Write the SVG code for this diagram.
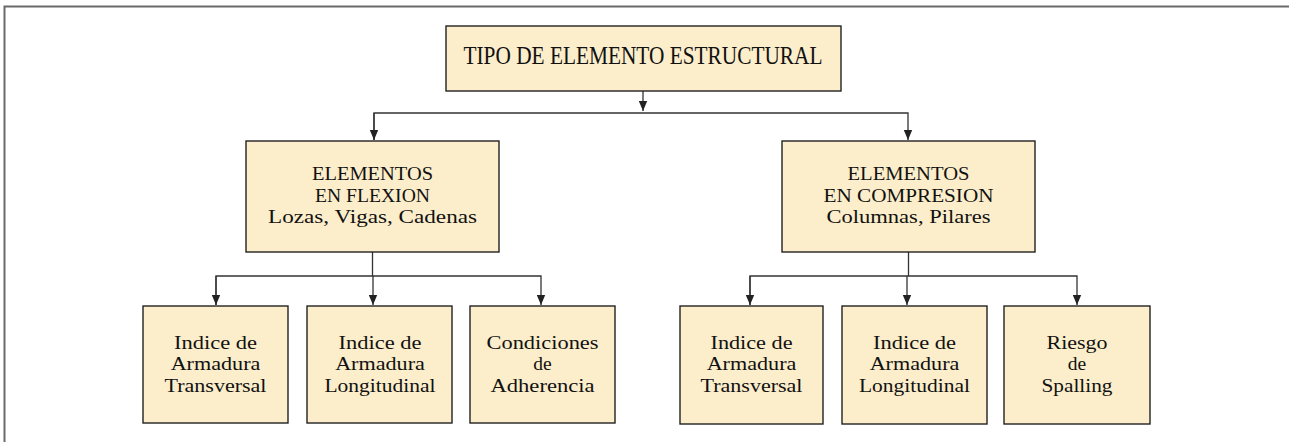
<svg xmlns="http://www.w3.org/2000/svg" width="1289" height="442" viewBox="0 0 1289 442">
<style>
.box{fill:#FCEECB;stroke:#222;stroke-width:1.4}
.t{font-family:"Liberation Serif","Times New Roman",serif;font-size:19.5px;fill:#111;text-anchor:middle}
.title{font-size:24.5px}
.c{fill:none;stroke:#333;stroke-width:1.3}
.frame{fill:none;stroke:#6a6a6a;stroke-width:2}
</style>
<defs>
<marker id="ad" markerUnits="userSpaceOnUse" markerWidth="10" markerHeight="12" viewBox="0 0 10 12" refX="5" refY="11" orient="0">
<path d="M0.8,1 L9.2,1 L5,11 Z" fill="#222"/>
</marker>
</defs>
<path class="frame" d="M4.5,442 L4.5,6.5 L1289,6.5"/>
<g id="connectors">
<path class="c" d="M643,91 L643,111" marker-end="url(#ad)"/>
<path class="c" d="M374,140 L374,113 L908,113 L908,140" marker-end="url(#ad)"/>
<path class="c" d="M374,113 L374,140" marker-end="url(#ad)"/>
<path class="c" d="M372.5,252 L372.5,276"/>
<path class="c" d="M216,305 L216,276 L541,276 L541,305" marker-end="url(#ad)"/>
<path class="c" d="M216,276 L216,305" marker-end="url(#ad)"/>
<path class="c" d="M373,276 L373,305" marker-end="url(#ad)"/>
<path class="c" d="M908.5,252 L908.5,276"/>
<path class="c" d="M750,305 L750,276 L1077,276 L1077,305" marker-end="url(#ad)"/>
<path class="c" d="M750,276 L750,305" marker-end="url(#ad)"/>
<path class="c" d="M907,276 L907,305" marker-end="url(#ad)"/>
</g>
<g id="n-root">
<rect class="box" x="446" y="26" width="395" height="65"/>
<text class="t title" x="643" y="64.3" textLength="359" lengthAdjust="spacingAndGlyphs">TIPO DE ELEMENTO ESTRUCTURAL</text>
</g>
<g id="n-flexion">
<rect class="box" x="246" y="141" width="253" height="111"/>
<text class="t" x="372.5" y="180.2" textLength="121" lengthAdjust="spacingAndGlyphs">ELEMENTOS</text>
<text class="t" x="372.5" y="201.7" textLength="115" lengthAdjust="spacingAndGlyphs">EN FLEXION</text>
<text class="t" x="372.5" y="223.2" textLength="209" lengthAdjust="spacingAndGlyphs">Lozas, Vigas, Cadenas</text>
</g>
<g id="n-compresion">
<rect class="box" x="782" y="141" width="253" height="111"/>
<text class="t" x="908.5" y="180.2" textLength="122" lengthAdjust="spacingAndGlyphs">ELEMENTOS</text>
<text class="t" x="908.5" y="201.7" textLength="170" lengthAdjust="spacingAndGlyphs">EN COMPRESION</text>
<text class="t" x="908.5" y="223.2" textLength="164" lengthAdjust="spacingAndGlyphs">Columnas, Pilares</text>
</g>
<g id="n-f-transversal">
<rect class="box" x="143" y="306" width="145" height="117"/>
<text class="t" x="215.5" y="348.5" textLength="83" lengthAdjust="spacingAndGlyphs">Indice de</text>
<text class="t" x="215.5" y="370" textLength="89.7" lengthAdjust="spacingAndGlyphs">Armadura</text>
<text class="t" x="215.5" y="391.5" textLength="102" lengthAdjust="spacingAndGlyphs">Transversal</text>
</g>
<g id="n-f-longitudinal">
<rect class="box" x="307" y="306" width="145" height="117"/>
<text class="t" x="380" y="348.5" textLength="83" lengthAdjust="spacingAndGlyphs">Indice de</text>
<text class="t" x="380" y="370" textLength="89.7" lengthAdjust="spacingAndGlyphs">Armadura</text>
<text class="t" x="380" y="391.5" textLength="111" lengthAdjust="spacingAndGlyphs">Longitudinal</text>
</g>
<g id="n-f-adherencia">
<rect class="box" x="470" y="306" width="145" height="117"/>
<text class="t" x="542.5" y="348.5" textLength="112" lengthAdjust="spacingAndGlyphs">Condiciones</text>
<text class="t" x="542.5" y="370">de</text>
<text class="t" x="542.5" y="391.5" textLength="104" lengthAdjust="spacingAndGlyphs">Adherencia</text>
</g>
<g id="n-c-transversal">
<rect class="box" x="680" y="306" width="143" height="118"/>
<text class="t" x="751.5" y="348.5" textLength="82" lengthAdjust="spacingAndGlyphs">Indice de</text>
<text class="t" x="751.5" y="370" textLength="89.7" lengthAdjust="spacingAndGlyphs">Armadura</text>
<text class="t" x="751.5" y="391.5" textLength="102" lengthAdjust="spacingAndGlyphs">Transversal</text>
</g>
<g id="n-c-longitudinal">
<rect class="box" x="842" y="306" width="145" height="118"/>
<text class="t" x="914.5" y="348.5" textLength="83" lengthAdjust="spacingAndGlyphs">Indice de</text>
<text class="t" x="914.5" y="370" textLength="89.7" lengthAdjust="spacingAndGlyphs">Armadura</text>
<text class="t" x="914.5" y="391.5" textLength="111" lengthAdjust="spacingAndGlyphs">Longitudinal</text>
</g>
<g id="n-c-spalling">
<rect class="box" x="1004" y="306" width="146" height="118"/>
<text class="t" x="1077" y="348.5" textLength="61" lengthAdjust="spacingAndGlyphs">Riesgo</text>
<text class="t" x="1077" y="370">de</text>
<text class="t" x="1077" y="391.5" textLength="71" lengthAdjust="spacingAndGlyphs">Spalling</text>
</g>
</svg>
